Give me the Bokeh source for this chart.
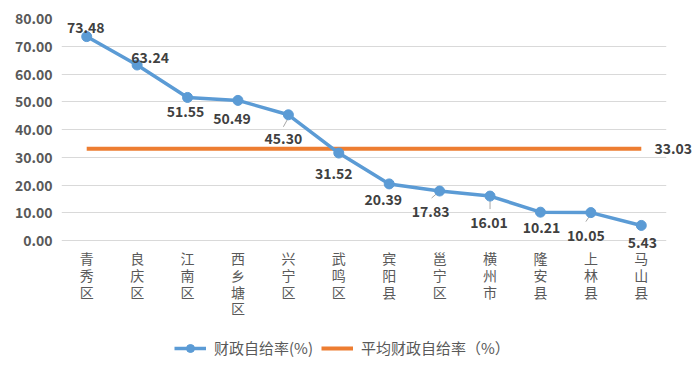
from bokeh.plotting import figure
from bokeh.models import (ColumnDataSource, Legend, LegendItem, LabelSet, LinearAxis,
                          Range1d, FixedTicker, NumeralTickFormatter)
from bokeh.core.properties import value
from bokeh.embed import file_html
from bokeh.resources import INLINE

# ---------------- data ----------------
regions = ["青秀区", "良庆区", "江南区", "西乡塘区", "兴宁区", "武鸣区",
           "宾阳县", "邕宁区", "横州市", "隆安县", "上林县", "马山县"]
ratio = [73.48, 63.24, 51.55, 50.49, 45.30, 31.52, 20.39, 17.83, 16.01, 10.21, 10.05, 5.43]
average = 33.03
y_ticks = [0, 10, 20, 30, 40, 50, 60, 70, 80]
series_names = ["财政自给率(%)", "平均财政自给率（%）"]

# ---------------- styling (label placement in screen px) ----------------
label_dx = [-1, 13, -2, -6, -5, -5, -6, -9, -1, 1, -5, 1]
label_dy = [9, 8, -14, -18, -24, -20, -16, -20, -26, -15, -23, -17]   # + = up
# leader lines: (dx0, dy0, dx1, dy1) in px from the point, + = right / down
leaders = {4: (0, 3, -5, 12), 7: (-1, 1, -8, 7), 8: (0, 4, 0, 13), 10: (-1, 3, -5, 9)}
PX_X = 50.4    # px per category
PX_Y = 2.775   # px per unit
FRAME_H = 340
Y_TOP = 80
Y_BOTTOM = Y_TOP - FRAME_H / PX_Y   # room below the plot for category labels and legend
X_AXIS_AT = -3.6

BLUE = "#5b9bd5"
ORANGE = "#ed7d31"
GRID = "#d9d9d9"
TXT = "#595959"
LBL = "#404040"
LEAD = "#a6a6a6"
FONT = "Noto Sans CJK SC"

xs = list(range(len(regions)))
src = ColumnDataSource(dict(
    x=xs, y=ratio, txt=["%.2f" % v for v in ratio], dx=label_dx, dy=label_dy))

lk = sorted(leaders)
lead_src = ColumnDataSource(dict(
    x0=[xs[i] + leaders[i][0] / PX_X for i in lk],
    y0=[ratio[i] - leaders[i][1] / PX_Y for i in lk],
    x1=[xs[i] + leaders[i][2] / PX_X for i in lk],
    y1=[ratio[i] - leaders[i][3] / PX_Y for i in lk]))

p = figure(frame_width=605, frame_height=FRAME_H, output_backend="svg", toolbar_location=None,
           x_range=Range1d(-0.5, len(regions) - 0.5), y_range=Range1d(Y_BOTTOM, Y_TOP),
           min_border_left=61, min_border_right=18, min_border_top=18, min_border_bottom=0)
p.outline_line_color = None
p.background_fill_color = "white"
p.border_fill_color = "white"

# grid
p.xgrid.grid_line_color = None
p.ygrid.grid_line_color = GRID
p.ygrid.grid_line_width = 1
p.ygrid.ticker = FixedTicker(ticks=y_ticks)

# y axis
p.yaxis.ticker = FixedTicker(ticks=y_ticks)
p.yaxis.formatter = NumeralTickFormatter(format="0.00")
p.yaxis.axis_line_color = None
p.yaxis.major_tick_line_color = None
p.yaxis.minor_tick_line_color = None
p.yaxis.major_label_text_font = FONT
p.yaxis.major_label_text_font_style = "bold"
p.yaxis.major_label_text_font_size = "14px"
p.yaxis.major_label_text_color = TXT
p.yaxis.major_label_standoff = 3

# x axis (category labels written vertically, one character per line)
p.xaxis.fixed_location = X_AXIS_AT
p.xaxis.ticker = FixedTicker(ticks=xs)
p.xaxis.major_label_overrides = {i: "\n".join(r) for i, r in enumerate(regions)}
p.xaxis.axis_line_color = None
p.xaxis.major_tick_line_color = None
p.xaxis.minor_tick_line_color = None
p.xaxis.major_label_text_font = FONT
p.xaxis.major_label_text_font_size = "14px"
p.xaxis.major_label_text_color = TXT
p.xaxis.major_label_text_line_height = 0.83
p.xaxis.major_label_standoff = -8

# average line
avg_r = p.line(x=[xs[0], xs[-1]], y=[average, average], line_color=ORANGE, line_width=4)

# leader lines
p.segment("x0", "y0", "x1", "y1", source=lead_src, line_color=LEAD, line_width=1)

# ratio series
line_r = p.line("x", "y", source=src, line_color=BLUE, line_width=3.5)
dot_r = p.scatter("x", "y", source=src, size=10, fill_color=BLUE, line_color=BLUE)

# data labels
labels = LabelSet(x="x", y="y", text="txt", source=src, x_offset="dx", y_offset="dy",
                  text_align="center", text_baseline="middle",
                  text_font=value(FONT), text_font_style="bold",
                  text_font_size="14px", text_color=LBL)
p.add_layout(labels)

# value of the average line, shown at its right end
avg_axis = LinearAxis(ticker=FixedTicker(ticks=[average]),
                      formatter=NumeralTickFormatter(format="0.00"),
                      axis_line_color=None, major_tick_line_color=None,
                      minor_tick_line_color=None, major_label_standoff=-18,
                      major_label_text_font=FONT, major_label_text_font_style="bold",
                      major_label_text_font_size="14px", major_label_text_color=LBL)
p.add_layout(avg_axis, "right")

legend = Legend(items=[LegendItem(label=series_names[0], renderers=[line_r, dot_r]),
                       LegendItem(label=series_names[1], renderers=[avg_r])],
                orientation="horizontal", location=(113, 0),
                border_line_color=None, background_fill_alpha=0,
                label_text_font=FONT, label_text_font_size="15px",
                label_text_color=TXT, glyph_width=32, spacing=8,
                padding=3, margin=0, label_standoff=8)
p.add_layout(legend)

open("out.html", "w").write(file_html(p, INLINE))
